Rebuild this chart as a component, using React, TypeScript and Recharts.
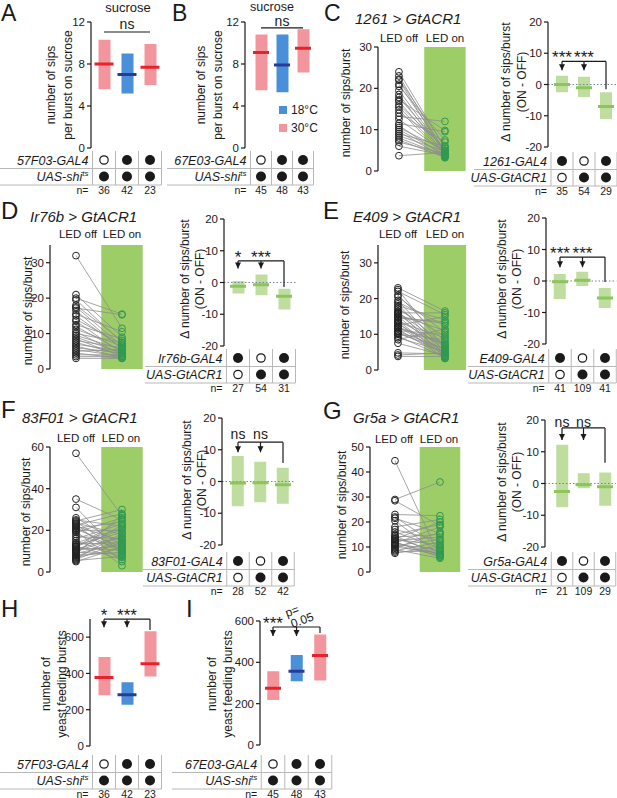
import React from 'react';
import {
  ComposedChart,
  Bar,
  Cell,
  Scatter,
  Line,
  XAxis,
  YAxis,
  ReferenceLine,
  ReferenceArea,
  ReferenceDot,
} from 'recharts';

const FONT = '"Liberation Sans", Arial, Helvetica, sans-serif';
const INK = '#1a1a1a';
const LED_GREEN = '#9dcd66';
const ON_GREEN = '#2f9a4f';
const GRID = '#b8b8b8';

const palette: Record<string, { box: string; med: string }> = {
  '30°C': { box: '#f3959d', med: '#e4232d' },
  '18°C': { box: '#4a8fda', med: '#2b3a98' },
  delta: { box: '#bfdd9f', med: '#8dc55b' },
};

// ---------- data ----------
const groups = ['g1', 'g2', 'g3'];
const shiTemps = ['30°C', '18°C', '30°C'];
const deltaTones = ['delta', 'delta', 'delta'];
const tempLegend = ['18°C', '30°C'];

// A: sips per burst on sucrose (57F03-GAL4 x UAS-shi)
const aLow = [5.6, 5.2, 6.0];
const aHigh = [10.3, 9.0, 9.9];
const aMedian = [8.0, 7.0, 7.7];
// B: sips per burst on sucrose (67E03-GAL4 x UAS-shi)
const bLow = [5.5, 5.3, 7.2];
const bHigh = [10.8, 10.8, 11.3];
const bMedian = [9.1, 7.9, 9.5];
// H: yeast feeding bursts (57F03)
const hLow = [280, 228, 383];
const hHigh = [490, 352, 632];
const hMedian = [378, 283, 453];
// I: yeast feeding bursts (67E03)
const iLow = [218, 308, 312];
const iHigh = [357, 435, 535];
const iMedian = [275, 357, 433];

// delta sips/burst (ON - OFF)
const cLow = [-2.5, -4, -11];
const cHigh = [2.8, 2.5, -2.5];
const cMedian = [0, -1, -7];
const dLow = [-3.5, -4, -8.5];
const dHigh = [0.5, 2.5, -2];
const dMedian = [-1.2, -0.7, -4.3];
const eLow = [-5.7, -1.6, -8.6];
const eHigh = [2.2, 2.9, -2.2];
const eMedian = [-0.2, 0.2, -5.4];
const fLow = [-7.8, -6.5, -7];
const fHigh = [8, 6.2, 4.3];
const fMedian = [-0.5, -0.4, -1];
const gLow = [-7.5, -1.5, -7];
const gHigh = [12.2, 3.2, 3.5];
const gMedian = [-2.5, -0.4, -1];

// paired sips/burst, LED off -> LED on
const cOff = [24, 23, 22.2, 22, 21, 20.5, 19.5, 18.5, 17.8, 17.2, 16.8, 16, 15.5, 14.8, 14, 13.2, 12.5, 11.5, 11, 10.5, 10, 9.5, 9, 8.5, 8, 7.5, 7, 6, 3.7];
const cOn = [5.5, 4.5, 6, 4, 5, 7.5, 4.5, 3.8, 5, 9.8, 4.2, 5.5, 4, 3.5, 7, 12, 4.5, 9.5, 3.5, 5, 4, 3.2, 6, 4.8, 3.7, 3.3, 4.2, 3.8, 4.5];
const dOff = [32, 21, 20, 19.5, 18, 17.5, 17.2, 16.5, 15.5, 15, 14, 13.5, 12.5, 12, 11.2, 10.5, 10, 9.5, 9, 8.5, 8, 7.5, 7, 6.5, 6, 5.5, 5, 4.5, 4, 3.5, 3];
const dOn = [11.5, 9, 15.5, 7.5, 8, 6.5, 15.3, 5.5, 10.5, 6, 7, 4.5, 8.5, 5, 6.5, 4, 7.5, 5.5, 4.5, 3.5, 6, 4, 5, 3.2, 4.5, 3.5, 5.5, 3, 4, 3.5, 3];
const eOff = [23, 22.5, 22, 21, 20.5, 19.5, 19, 18.5, 18, 17.5, 17, 16.5, 16, 15.8, 15.5, 15, 14.5, 14, 13.8, 13.5, 13, 12.5, 12.2, 12, 11.5, 11, 10.8, 10.5, 10, 9.5, 9, 8.5, 7.5, 16.2, 14.8, 13.2, 11.8, 10.2, 4.8, 4.2, 3.8];
const eOn = [16.5, 6, 15.5, 8, 10.5, 5, 12.5, 4, 14, 7, 9.5, 3.5, 16, 5.5, 11, 4.5, 13.5, 6.5, 3.8, 9, 5, 15, 4.2, 7.5, 3.3, 10, 6, 4.8, 8.5, 3.5, 5.2, 11.5, 4, 6.8, 13, 3.2, 7.2, 5.8, 4.5, 4.8, 3.8];
const fOff = [57, 35, 31, 26, 25, 24.5, 24, 23.5, 23, 22.5, 22, 21.5, 21, 20.5, 20, 19.5, 19, 18, 17, 16, 15, 14, 13.5, 13, 12.5, 12, 11.5, 11, 10.5, 10, 9.5, 9, 8.5, 8, 7.5, 7, 6.5, 6, 5.5, 5, 12.2, 10.2];
const fOn = [27, 25, 8, 13, 22, 30, 10, 18, 5, 28, 15, 9, 24, 12, 20, 3, 26, 11, 16, 23, 7, 21, 14, 19, 6, 25.5, 10.5, 17, 12.5, 22.5, 8.5, 13.5, 27.5, 9.5, 15.5, 11.5, 18.5, 14.5, 7.5, 12, 20.5, 16.5];
const gOff = [44.5, 29, 28.5, 23, 22, 21.5, 20.5, 18, 17, 16, 15, 14.5, 14, 13.5, 13, 12.5, 12, 11.5, 11, 10.5, 10, 9.5, 9, 8.5, 8, 7.5, 13.2, 11.8, 10.8];
const gOn = [6, 36, 18.5, 22.5, 10, 15.5, 7, 21, 12.5, 9.5, 19, 6.5, 15, 8, 11, 14, 6, 18, 9, 13, 7.5, 16, 5.5, 12, 8.5, 10.5, 20, 7, 6.5];

// genotype tables (1 = present, 0 = absent) and n
const shiGal4 = [0, 1, 1];
const shiUas = [1, 1, 1];
const acrGal4 = [1, 0, 1];
const acrUas = [0, 1, 1];
const aN = [36, 42, 23];
const bN = [45, 48, 43];
const cN = [35, 54, 29];
const dN = [27, 54, 31];
const eN = [41, 109, 41];
const fN = [28, 52, 42];
const gN = [21, 109, 29];
const hN = [36, 42, 23];
const iN = [45, 48, 43];

// significance labels
const aSig = ['ns'];
const bSig = ['ns'];
const cSig = ['***', '***'];
const dSig = ['*', '***'];
const eSig = ['***', '***'];
const fSig = ['ns', 'ns'];
const gSig = ['ns', 'ns'];
const hSig = ['*', '***'];
const iSig = ['***', 'p=\n0.05'];

// ticks
const sucroseTicks = [0, 4, 8, 12];
const yeastTicks = [0, 200, 400, 600];
const deltaTicks = [-20, -10, 0, 10, 20];
const sips30Ticks = [0, 10, 20, 30];
const sips60Ticks = [0, 20, 40, 60];
const sips50Ticks = [0, 10, 20, 30, 40, 50];

// ---------- layout helpers ----------
const YW = 34;
const MT = 30;
const MB = 8;
const LED_OFF = 1;
const LED_ON = 3;

const yAxisProps: any = {
  type: 'number',
  width: YW,
  tickSize: 4,
  tickMargin: 2,
  interval: 0,
  allowDataOverflow: true,
  axisLine: { stroke: INK, strokeWidth: 1.2 },
  tickLine: { stroke: INK, strokeWidth: 1.2 },
  tick: { fontSize: 11.5, fill: INK, fontFamily: FONT },
};

const arrowHead = (p: any) => (
  <path d={`M${p.cx - 3},${p.cy - 6}L${p.cx + 3},${p.cy - 6}L${p.cx},${p.cy}Z`} fill={INK} />
);

const sigLabel = (label: string, dy: number) => (p: any) => {
  if (label.includes('\n')) {
    const [l1, l2] = label.split('\n');
    return (
      <g fontFamily={FONT} fontSize={12} fill={INK}>
        <text x={p.cx - 3} y={p.cy - 12} textAnchor="middle" transform={`rotate(-20 ${p.cx - 3} ${p.cy - 12})`}>{l1}</text>
        <text x={p.cx + 7} y={p.cy - 3} textAnchor="middle" transform={`rotate(-20 ${p.cx + 7} ${p.cy - 3})`}>{l2}</text>
      </g>
    );
  }
  const stars = label.startsWith('*');
  return (
    <text x={p.cx} y={p.cy + dy} textAnchor="middle" fontFamily={FONT} fontSize={stars ? 17 : 14} fill={INK}>
      {label}
    </text>
  );
};

type Sig = { labels: string[]; line: number; tip?: number; end?: number; dy: number };

function bracketMarks(id: string, s: Sig) {
  const [g1, g2, g3] = groups;
  const st: any = { stroke: INK, strokeWidth: 1.2, ifOverflow: 'visible' };
  if (s.labels.length === 1) {
    return [
      <ReferenceLine key={`${id}-h`} segment={[{ x: g1, y: s.line }, { x: g3, y: s.line }]} {...st} />,
      <ReferenceDot key={`${id}-t`} x={g2} y={s.line} ifOverflow="visible" shape={sigLabel(s.labels[0], s.dy)} />,
    ];
  }
  return [
    <ReferenceLine key={`${id}-h`} segment={[{ x: g1, y: s.line }, { x: g3, y: s.line }]} {...st} />,
    <ReferenceLine key={`${id}-r`} segment={[{ x: g3, y: s.line }, { x: g3, y: s.end }]} {...st} />,
    ...[g1, g2].flatMap((g, i) => [
      <ReferenceLine key={`${id}-v${i}`} segment={[{ x: g, y: s.line }, { x: g, y: s.tip }]} {...st} />,
      <ReferenceDot key={`${id}-a${i}`} x={g} y={s.tip} ifOverflow="visible" shape={arrowHead} />,
      <ReferenceDot key={`${id}-t${i}`} x={g} y={s.line} ifOverflow="visible" shape={sigLabel(s.labels[i], s.dy)} />,
    ]),
  ];
}

type RangeProps = {
  axisX: number; top: number; bottom: number; c0: number; band: number;
  domain: number[]; ticks: number[];
  low: number[]; high: number[]; median: number[]; tones: string[];
  medW: number; zero?: boolean; sig: Sig; id: string;
};

function RangePanel(props: RangeProps) {
  const { axisX, top, bottom, c0, band, domain, ticks, low, high, median, tones, medW, zero, sig, id } = props;
  const pad = c0 - band / 2 - axisX;
  const right = c0 + band * 2.5;
  const width = right - axisX + YW;
  const height = bottom - top + MT + MB;
  const rows = groups.map((g, i) => ({ g, range: [low[i], high[i]], med: median[i], tone: tones[i] }));
  const medianTick = (p: any) => (
    <line
      x1={p.cx - medW / 2}
      x2={p.cx + medW / 2}
      y1={p.cy}
      y2={p.cy}
      stroke={palette[p.payload.tone].med}
      strokeWidth={3}
    />
  );
  return (
    <div style={{ position: 'absolute', left: axisX - YW, top: top - MT }}>
      <ComposedChart width={width} height={height} data={rows} margin={{ top: MT, right: 0, bottom: MB, left: 0 }}>
        <XAxis dataKey="g" type="category" hide padding={{ left: pad, right: 0 }} />
        <YAxis {...yAxisProps} domain={domain} ticks={ticks} />
        {zero && <ReferenceLine y={0} stroke="#74839e" strokeWidth={1} strokeDasharray="1.5 2" />}
        <Bar dataKey="range" barSize={12} isAnimationActive={false}>
          {rows.map((r) => (
            <Cell key={r.g} fill={palette[r.tone].box} />
          ))}
        </Bar>
        <Scatter dataKey="med" shape={medianTick} isAnimationActive={false} />
        {bracketMarks(id, sig)}
      </ComposedChart>
    </div>
  );
}

const ring = (color: string) => (p: any) => (
  <circle cx={p.cx} cy={p.cy} r={3.4} fill="none" stroke={color} strokeWidth={1} />
);

type PairedProps = {
  axisX: number; top: number; bottom: number; xDomain: number[]; unit: number;
  yDomain: number[]; yTicks: number[]; off: number[]; on: number[];
};

function PairedPanel({ axisX, top, bottom, xDomain, unit, yDomain, yTicks, off, on }: PairedProps) {
  const width = (xDomain[1] - xDomain[0]) * unit + YW;
  const height = bottom - top + MT + MB;
  const offPts = off.map((v) => ({ x: LED_OFF, y: v }));
  const onPts = on.map((v) => ({ x: LED_ON, y: v }));
  return (
    <div style={{ position: 'absolute', left: axisX - YW, top: top - MT }}>
      <ComposedChart width={width} height={height} margin={{ top: MT, right: 0, bottom: MB, left: 0 }}>
        <XAxis type="number" dataKey="x" domain={xDomain} hide allowDataOverflow />
        <YAxis {...yAxisProps} domain={yDomain} ticks={yTicks} />
        <ReferenceArea x1={2.1} x2={3.9} y1={yDomain[0]} y2={yDomain[1]} fill={LED_GREEN} fillOpacity={1} stroke="none" ifOverflow="visible" />
        {offPts.map((pt, i) => (
          <Line
            key={i}
            data={[pt, onPts[i]]}
            dataKey="y"
            type="linear"
            stroke="#8d8d8d"
            strokeWidth={0.8}
            dot={false}
            activeDot={false}
            isAnimationActive={false}
          />
        ))}
        <Scatter data={offPts} dataKey="y" shape={ring('#222')} isAnimationActive={false} />
        <Scatter data={onPts} dataKey="y" shape={ring(ON_GREEN)} isAnimationActive={false} />
      </ComposedChart>
    </div>
  );
}

type TableProps = {
  c0: number; band: number; y: number; left: number;
  labels: React.ReactNode[]; gal4: number[]; uas: number[]; n: number[];
};

function GenoTable({ c0, band, y, left, labels, gal4, uas, n }: TableProps) {
  const cols = groups.map((_, i) => c0 + i * band);
  const xl = c0 - band / 2;
  const xr = cols[2] + band / 2;
  const rowY = [y, y + 16.5];
  return (
    <g fontFamily={FONT} fill={INK}>
      {[y + 8.5, y + 25].map((ly) => (
        <line key={ly} x1={left} x2={xr} y1={ly} y2={ly} stroke={GRID} strokeWidth={1} />
      ))}
      {[xl, cols[0] + band / 2, cols[1] + band / 2, xr].map((lx) => (
        <line key={lx} x1={lx} x2={lx} y1={y - 9} y2={y + 25} stroke={GRID} strokeWidth={1} />
      ))}
      {labels.map((lab, r) => (
        <text key={r} x={xl - 4} y={rowY[r] + 4.5} textAnchor="end" fontStyle="italic" fontSize={12.5}>
          {lab}
        </text>
      ))}
      {[gal4, uas].map((row, r) =>
        row.map((has, i) =>
          has ? (
            <circle key={`${r}${i}`} cx={cols[i]} cy={rowY[r]} r={5} fill={INK} />
          ) : (
            <circle key={`${r}${i}`} cx={cols[i]} cy={rowY[r]} r={4.2} fill="#fff" stroke={INK} strokeWidth={1.2} />
          ),
        ),
      )}
      <text x={xl - 4} y={y + 33.5} textAnchor="end" fontSize={10.5}>n=</text>
      {n.map((v, i) => (
        <text key={i} x={cols[i]} y={y + 33.5} textAnchor="middle" fontSize={10.5}>{v}</text>
      ))}
    </g>
  );
}

const shiLabel = (
  <>
    UAS-shi
    <tspan fontSize={8} dy={-5}>ts</tspan>
  </>
);

function VTitle({ x, y, text }: { x: number; y: number; text: string }) {
  return (
    <text
      transform={`translate(${x},${y}) rotate(-90)`}
      textAnchor="middle"
      dominantBaseline="central"
      fontFamily={FONT}
      fontSize={12}
      fill={INK}
    >
      {text}
    </text>
  );
}

function T({ x, y, children, size = 12, anchor = 'start', italic = false }: any) {
  return (
    <text x={x} y={y} fontFamily={FONT} fontSize={size} fill={INK} textAnchor={anchor} fontStyle={italic ? 'italic' : 'normal'}>
      {children}
    </text>
  );
}

export default function App() {
  return (
    <div style={{ position: 'absolute', left: 0, top: 0, width: 617, height: 798, background: '#fff', overflow: 'hidden' }}>
      <style>{'.recharts-surface{overflow:visible}'}</style>
      {/* A, B, H, I: temperature-shift range bars */}
      <RangePanel id="A" axisX={91} top={22} bottom={148} c0={104} band={23} domain={[0, 12]} ticks={sucroseTicks}
        low={aLow} high={aHigh} median={aMedian} tones={shiTemps} medW={19} sig={{ labels: aSig, line: 11.05, dy: -3 }} />
      <RangePanel id="B" axisX={245} top={22} bottom={148} c0={261} band={21} domain={[0, 12]} ticks={sucroseTicks}
        low={bLow} high={bHigh} median={bMedian} tones={shiTemps} medW={16} sig={{ labels: bSig, line: 11.45, dy: -1.5 }} />
      <RangePanel id="H" axisX={90} top={619} bottom={746} c0={104} band={23} domain={[0, 700]} ticks={yeastTicks}
        low={hLow} high={hHigh} median={hMedian} tones={shiTemps} medW={19}
        sig={{ labels: hSig, line: 699, tip: 655, end: 640, dy: 2 }} />
      <RangePanel id="I" axisX={260} top={621} bottom={745} c0={273} band={23.5} domain={[0, 600]} ticks={yeastTicks}
        low={iLow} high={iHigh} median={iMedian} tones={shiTemps} medW={16}
        sig={{ labels: iSig, line: 571, tip: 527, end: 542, dy: 2 }} />

      {/* C-G: paired LED off / on */}
      <PairedPanel axisX={378} top={47} bottom={171} xDomain={[0.09, 4]} unit={23} yDomain={[0, 30]} yTicks={sips30Ticks} off={cOff} on={cOn} />
      <PairedPanel axisX={50} top={245} bottom={369} xDomain={[-0.13, 4]} unit={23} yDomain={[0, 35]} yTicks={sips30Ticks} off={dOff} on={dOn} />
      <PairedPanel axisX={378} top={245} bottom={370} xDomain={[0.15, 4]} unit={23.5} yDomain={[0, 35]} yTicks={sips30Ticks} off={eOff} on={eOn} />
      <PairedPanel axisX={50} top={447} bottom={572} xDomain={[-0.13, 4]} unit={23} yDomain={[0, 60]} yTicks={sips60Ticks} off={fOff} on={fOn} />
      <PairedPanel axisX={370} top={447} bottom={572} xDomain={[-0.11, 4]} unit={22.5} yDomain={[0, 50]} yTicks={sips50Ticks} off={gOff} on={gOn} />

      {/* C-G: delta (ON - OFF) */}
      <RangePanel id="C" zero axisX={548} top={22} bottom={147} c0={562} band={22} domain={[-20, 20]} ticks={deltaTicks}
        low={cLow} high={cHigh} median={cMedian} tones={deltaTones} medW={16}
        sig={{ labels: cSig, line: 7.4, tip: 4.6, end: -1.5, dy: 2 }} />
      <RangePanel id="D" zero axisX={224} top={219} bottom={346} c0={238} band={23} domain={[-20, 20]} ticks={deltaTicks}
        low={dLow} high={dHigh} median={dMedian} tones={deltaTones} medW={16}
        sig={{ labels: dSig, line: 6.8, tip: 4.4, end: -1.4, dy: 2 }} />
      <RangePanel id="E" zero axisX={546} top={218} bottom={344} c0={560} band={22.5} domain={[-20, 20]} ticks={deltaTicks}
        low={eLow} high={eHigh} median={eMedian} tones={deltaTones} medW={16}
        sig={{ labels: eSig, line: 7.6, tip: 4.4, end: -0.3, dy: 2 }} />
      <RangePanel id="F" zero axisX={222} top={418} bottom={545} c0={238} band={22.5} domain={[-20, 20]} ticks={deltaTicks}
        low={fLow} high={fHigh} median={fMedian} tones={deltaTones} medW={16}
        sig={{ labels: fSig, line: 12.4, tip: 9.2, end: 5.8, dy: -3 }} />
      <RangePanel id="G" zero axisX={545} top={420} bottom={547} c0={562} band={21.5} domain={[-20, 20]} ticks={deltaTicks}
        low={gLow} high={gHigh} median={gMedian} tones={deltaTones} medW={16}
        sig={{ labels: gSig, line: 17.5, tip: 13.7, end: 6.5, dy: -1 }} />

      {/* text, legends and genotype tables */}
      <svg width={617} height={798} style={{ position: 'absolute', left: 0, top: 0, pointerEvents: 'none' }}>
        {/* panel letters */}
        <T x={1} y={21} size={23}>A</T>
        <T x={172} y={21} size={23}>B</T>
        <T x={324} y={21} size={23}>C</T>
        <T x={1} y={219} size={24}>D</T>
        <T x={323} y={219} size={24}>E</T>
        <T x={1} y={418} size={24}>F</T>
        <T x={323} y={419} size={24}>G</T>
        <T x={1} y={617} size={24}>H</T>
        <T x={186} y={617} size={24}>I</T>

        {/* titles */}
        <T x={128} y={11.5} size={13} anchor="middle">sucrose</T>
        <T x={272} y={10.5} size={12.5} anchor="middle">sucrose</T>
        <T x={355} y={24} size={15} italic>1261 &gt; GtACR1</T>
        <T x={30} y={222} size={15} italic>Ir76b &gt; GtACR1</T>
        <T x={353} y={222} size={15} italic>E409 &gt; GtACR1</T>
        <T x={22} y={423} size={15} italic>83F01 &gt; GtACR1</T>
        <T x={353} y={423} size={15} italic>Gr5a &gt; GtACR1</T>

        {/* LED labels */}
        <T x={399} y={42} size={11.5} anchor="middle">LED off</T>
        <T x={445} y={42} size={11.5} anchor="middle">LED on</T>
        <T x={78} y={238} size={11.5} anchor="middle">LED off</T>
        <T x={122} y={238} size={11.5} anchor="middle">LED on</T>
        <T x={398} y={238} size={11.5} anchor="middle">LED off</T>
        <T x={445} y={238} size={11.5} anchor="middle">LED on</T>
        <T x={76} y={442} size={11.5} anchor="middle">LED off</T>
        <T x={121} y={442} size={11.5} anchor="middle">LED on</T>
        <T x={394} y={443} size={11.5} anchor="middle">LED off</T>
        <T x={439} y={443} size={11.5} anchor="middle">LED on</T>

        {/* axis titles */}
        <VTitle x={51} y={85} text="number of sips" />
        <VTitle x={68} y={85} text="per burst on sucrose" />
        <VTitle x={201} y={85} text="number of sips" />
        <VTitle x={218} y={85} text="per burst on sucrose" />
        <VTitle x={346} y={103} text="number of sips/burst" />
        <VTitle x={506} y={82} text="Δ number of sips/burst" />
        <VTitle x={522} y={82} text="(ON - OFF)" />
        <VTitle x={28} y={311} text="number of sips/burst" />
        <VTitle x={185} y={279} text="Δ number of sips/burst" />
        <VTitle x={200} y={279} text="(ON - OFF)" />
        <VTitle x={345} y={305} text="number of sips/burst" />
        <VTitle x={502} y={279} text="Δ number of sips/burst" />
        <VTitle x={517} y={279} text="(ON - OFF)" />
        <VTitle x={26} y={512} text="number of sips/burst" />
        <VTitle x={187} y={480} text="Δ number of sips/burst" />
        <VTitle x={202} y={480} text="(ON - OFF)" />
        <VTitle x={342} y={505} text="number of sips/burst" />
        <VTitle x={502} y={482} text="Δ number of sips/burst" />
        <VTitle x={517} y={482} text="(ON - OFF)" />
        <VTitle x={46} y={684} text="number of" />
        <VTitle x={62} y={684} text="yeast feeding bursts" />
        <VTitle x={212} y={684} text="number of" />
        <VTitle x={228} y={684} text="yeast feeding bursts" />

        {/* temperature legend (B) */}
        {tempLegend.map((t, i) => (
          <g key={t}>
            <rect x={279} y={106 + i * 18} width={8} height={8} fill={palette[t].box} />
            <T x={291} y={114 + i * 18} size={12}>{t}</T>
          </g>
        ))}

        {/* genotype tables */}
        <GenoTable c0={104} band={23} y={160} left={0} labels={['57F03-GAL4', shiLabel]} gal4={shiGal4} uas={shiUas} n={aN} />
        <GenoTable c0={261} band={21} y={160} left={167} labels={['67E03-GAL4', shiLabel]} gal4={shiGal4} uas={shiUas} n={bN} />
        <GenoTable c0={562} band={22} y={161} left={474} labels={['1261-GAL4', 'UAS-GtACR1']} gal4={acrGal4} uas={acrUas} n={cN} />
        <GenoTable c0={238} band={23} y={358} left={145} labels={['Ir76b-GAL4', 'UAS-GtACR1']} gal4={acrGal4} uas={acrUas} n={dN} />
        <GenoTable c0={560} band={22.5} y={358} left={468} labels={['E409-GAL4', 'UAS-GtACR1']} gal4={acrGal4} uas={acrUas} n={eN} />
        <GenoTable c0={238} band={22.5} y={561} left={143} labels={['83F01-GAL4', 'UAS-GtACR1']} gal4={acrGal4} uas={acrUas} n={fN} />
        <GenoTable c0={562} band={21.5} y={561} left={468} labels={['Gr5a-GAL4', 'UAS-GtACR1']} gal4={acrGal4} uas={acrUas} n={gN} />
        <GenoTable c0={104} band={23} y={764} left={0} labels={['57F03-GAL4', shiLabel]} gal4={shiGal4} uas={shiUas} n={hN} />
        <GenoTable c0={273} band={23.5} y={764} left={172} labels={['67E03-GAL4', shiLabel]} gal4={shiGal4} uas={shiUas} n={iN} />
      </svg>
    </div>
  );
}
